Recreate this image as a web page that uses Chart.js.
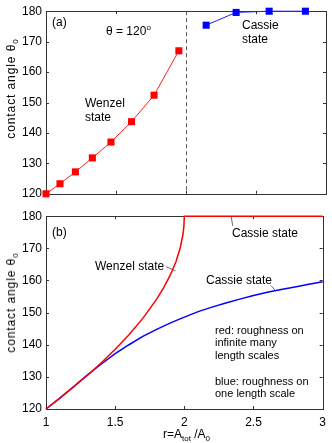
<!DOCTYPE html>
<html>
<head>
<meta charset="utf-8">
<script src="https://cdn.jsdelivr.net/npm/chart.js@4.4.0/dist/chart.umd.min.js"></script>
<style>
  body { margin: 0; background: #fff; }
  #wrap { position: relative; width: 332px; height: 443px; overflow: hidden;
          font-family: 'Liberation Sans', Arial, sans-serif; color: #000; }
  canvas { position: absolute; left: 0; }
  .lbl { position: absolute; font-size: 12px; line-height: 14px; white-space: nowrap; }
  .small { font-size: 11px; line-height: 12.3px; }
  .ytitle { position: absolute; font-size: 12px; letter-spacing: 0.9px; white-space: nowrap;
            transform: translate(-50%, -50%) rotate(-90deg); }
  sub { font-size: 8px; vertical-align: -3px; letter-spacing: 0; }
  sup { font-size: 8px; vertical-align: 5px; }
</style>
</head>
<body>
<div id="wrap">
  <canvas id="top" width="332" height="205" style="top:0"></canvas>
  <canvas id="bottom" width="332" height="238" style="top:205px"></canvas>

  <div class="lbl" style="left:52px; top:15px">(a)</div>
  <div class="lbl" style="left:106px; top:21px">&theta; = 120<sup>o</sup></div>
  <div class="lbl" style="left:85px; top:96px">Wenzel<br>state</div>
  <div class="lbl" style="left:242px; top:18px">Cassie<br>state</div>
  <div class="ytitle" style="left:12px; top:89px">contact angle &theta;<sub>0</sub></div>

  <div class="lbl" style="left:52px; top:225px">(b)</div>
  <div class="lbl" style="left:95px; top:259px">Wenzel state</div>
  <div class="lbl" style="left:232px; top:226px">Cassie state</div>
  <div class="lbl" style="left:206px; top:273px">Cassie state</div>
  <div class="lbl small" style="left:215px; top:324px">red: roughness on<br>infinite many<br>length scales</div>
  <div class="lbl small" style="left:215px; top:375px">blue: roughness on<br>one length scale</div>
  <div class="ytitle" style="left:12px; top:303px">contact angle &theta;<sub>0</sub></div>
  <div class="lbl" style="left:163px; top:427px">r=A<sub>tot</sub> /A<sub>0</sub></div>
</div>
<script>
// panel (a): simulated points
const wenzelR = [1, 1.1, 1.21, 1.331, 1.464, 1.611, 1.772, 1.949];
const wenzelAngle = [120, 123.3, 127.2, 131.8, 137.0, 143.7, 152.4, 167.0];
const cassieR = [2.144, 2.358, 2.594, 2.853];
const cassieAngle = [175.4, 179.6, 180, 180];
const dashR = 2;

// panel (b): curves
const redR = [1, 1.1, 1.2, 1.3, 1.4, 1.5, 1.6, 1.7, 1.8, 1.85, 1.9, 1.94, 1.97, 1.99, 1.997, 2.0, 3.0];
const redAngle = [120, 123.4, 126.9, 130.5, 134.4, 138.6, 143.1, 148.2, 154.2, 157.7, 161.8, 165.9, 170.1, 174.3, 177.0, 180, 180];
const blueR = [1, 1.1, 1.2, 1.3, 1.4, 1.5, 1.6, 1.7, 1.8, 1.9, 2.0, 2.1, 2.2, 2.3, 2.4, 2.5, 2.6, 2.7, 2.8, 2.9, 3.0];
const blueAngle = [120, 123.4, 127.0, 130.6, 134.0, 137.2, 140.0, 142.6, 144.8, 146.8, 148.6, 150.3, 151.7, 153.0, 154.2, 155.3, 156.3, 157.2, 158.0, 158.8, 159.6];

// ticks
const xTicks = [1, 1.5, 2, 2.5, 3];
const yTicks = [120, 130, 140, 150, 160, 170, 180];

// annotation leader lines [r1, angle1, r2, angle2]
const leaders = [
    [1.868, 164.3, 1.935, 163.0],
    [2.338, 180, 2.35, 177.0],
    [2.626, 158.4, 2.655, 157.0]
];

const FONT = "'Liberation Sans', Arial, sans-serif";
const pts = (xs, ys) => xs.map((x, i) => ({ x: x, y: ys[i] }));

// frame + inward ticks under the data, dashed line and leaders on top
const framePlugin = {
    id: 'frame',
    beforeDatasetsDraw(chart) {
        const ctx = chart.ctx;
        const a = chart.chartArea;
        const xs = chart.scales.x, ys = chart.scales.y;
        ctx.save();
        ctx.strokeStyle = '#333';
        ctx.lineWidth = 1;
        ctx.beginPath();
        xTicks.forEach(v => {
            const px = Math.round(xs.getPixelForValue(v)) + 0.5;
            ctx.moveTo(px, a.bottom); ctx.lineTo(px, a.bottom - 3);
            ctx.moveTo(px, a.top); ctx.lineTo(px, a.top + 3);
        });
        yTicks.forEach(v => {
            const py = Math.round(ys.getPixelForValue(v)) + 0.5;
            ctx.moveTo(a.left, py); ctx.lineTo(a.left + 3, py);
            ctx.moveTo(a.right, py); ctx.lineTo(a.right - 3, py);
        });
        ctx.stroke();
        ctx.strokeRect(Math.round(a.left) + 0.5, Math.round(a.top) + 0.5,
                       Math.round(a.right - a.left), Math.round(a.bottom - a.top));
        ctx.restore();
    },
    afterDraw(chart, args, opts) {
        const ctx = chart.ctx;
        const a = chart.chartArea;
        const xs = chart.scales.x, ys = chart.scales.y;
        ctx.save();
        if (opts.dash) {
            const px = Math.round(xs.getPixelForValue(dashR)) + 0.5;
            ctx.strokeStyle = '#555';
            ctx.lineWidth = 1;
            ctx.setLineDash([4, 3]);
            ctx.beginPath();
            ctx.moveTo(px, a.top); ctx.lineTo(px, a.bottom);
            ctx.stroke();
            ctx.setLineDash([]);
        }
        if (opts.leaders) {
            ctx.strokeStyle = '#444';
            ctx.lineWidth = 0.8;
            ctx.beginPath();
            leaders.forEach(l => {
                ctx.moveTo(xs.getPixelForValue(l[0]), ys.getPixelForValue(l[1]));
                ctx.lineTo(xs.getPixelForValue(l[2]), ys.getPixelForValue(l[3]));
            });
            ctx.stroke();
        }
        ctx.restore();
    }
};

function makeScales(showX, xHeight) {
    return {
        x: {
            type: 'linear', min: 1, max: 3, display: showX,
            grid: { display: false, drawTicks: false },
            border: { display: false },
            ticks: { stepSize: 0.5, color: '#000', padding: 6, maxRotation: 0,
                     font: { family: FONT, size: 12 },
                     callback: v => String(v) },
            afterFit: s => { s.height = xHeight; }
        },
        y: {
            min: 120, max: 180,
            grid: { display: false, drawTicks: false },
            border: { display: false },
            ticks: { stepSize: 10, color: '#000', padding: 4,
                     font: { family: FONT, size: 12 } },
            afterFit: s => { s.width = 46; }
        }
    };
}

new Chart(document.getElementById('top'), {
    type: 'scatter',
    data: {
        datasets: [{
            data: pts(wenzelR, wenzelAngle),
            showLine: true,
            borderColor: '#ff2020',
            borderWidth: 1,
            backgroundColor: '#ff0000',
            pointStyle: 'rect',
            pointRadius: 5,
            pointBorderWidth: 0,
            clip: false
        }, {
            data: pts(cassieR, cassieAngle),
            showLine: true,
            borderColor: '#2020ff',
            borderWidth: 1,
            backgroundColor: '#0000ff',
            pointStyle: 'rect',
            pointRadius: 5,
            pointBorderWidth: 0,
            clip: false
        }]
    },
    options: {
        responsive: false,
        animation: false,
        layout: { padding: { top: 7, right: 6, bottom: 4, left: 0 } },
        plugins: { legend: { display: false }, tooltip: { enabled: false },
                   frame: { dash: true } },
        scales: makeScales(false, 0)
    },
    plugins: [framePlugin]
});

new Chart(document.getElementById('bottom'), {
    type: 'scatter',
    data: {
        datasets: [{
            data: pts(redR, redAngle),
            showLine: true,
            borderColor: '#ff0000',
            borderWidth: 1.5,
            pointRadius: 0,
            clip: false
        }, {
            data: pts(blueR, blueAngle),
            showLine: true,
            borderColor: '#0000ff',
            borderWidth: 1.5,
            pointRadius: 0,
            clip: false
        }]
    },
    options: {
        responsive: false,
        animation: false,
        layout: { padding: { top: 11, right: 6, bottom: 0, left: 0 } },
        plugins: { legend: { display: false }, tooltip: { enabled: false },
                   frame: { leaders: true } },
        scales: makeScales(true, 34)
    },
    plugins: [framePlugin]
});
</script>
</body>
</html>
